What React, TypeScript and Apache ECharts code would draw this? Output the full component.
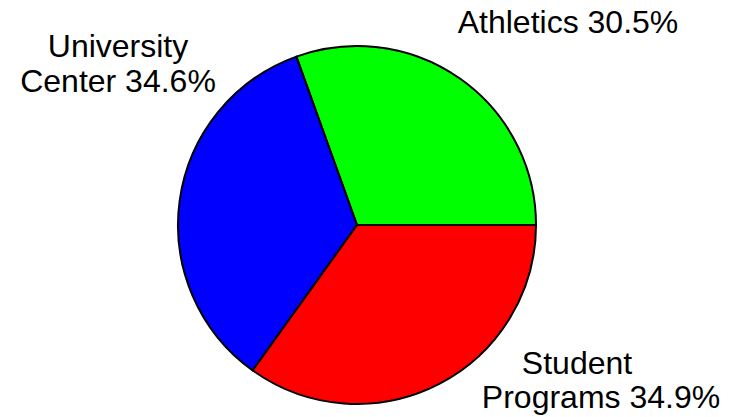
import React, { useEffect, useRef } from "react";
import * as echarts from "echarts";

const categories = ["Athletics", "University Center", "Student Programs"];
const values = [30.5, 34.6, 34.9];
const labelLines = [["Athletics"], ["University", "Center"], ["Student", "Programs"]];
const colors = ["#00ff00", "#0000ff", "#ff0000"];
// label anchor positions (text block centers)
const labelAnchors = [
  [568, 22],
  [118, 63],
  [601, 380],
];

export default function App() {
  const ref = useRef<HTMLDivElement>(null);
  useEffect(() => {
    if (!ref.current) return;
    const chart = echarts.init(ref.current, null, { renderer: "svg" });
    const font = "'Liberation Sans', Arial, sans-serif";
    chart.setOption({
      animation: false,
      backgroundColor: "#ffffff",
      series: [
        {
          type: "pie",
          center: [357, 225],
          radius: 179,
          startAngle: 0,
          clockwise: false,
          avoidLabelOverlap: false,
          itemStyle: { borderColor: "#000000", borderWidth: 2 },
          label: {
            show: true,
            position: "outside",
            fontFamily: font,
            fontSize: 32,
            color: "#000000",
            lineHeight: 35,
            align: "center",
            formatter: (p: any) => {
              const lines = labelLines[p.dataIndex];
              const pct = values[p.dataIndex].toFixed(1) + "%";
              if (lines.length === 1) return `${lines[0]} ${pct}`;
              if (p.dataIndex === 2) return `{a|${lines[0]}}\n{b|${lines[1]} ${pct}}`;
              return `${lines[0]}\n${lines[1]} ${pct}`;
            },
            rich: {
              a: { fontFamily: font, fontSize: 32, lineHeight: 34, color: "#000", padding: [0, 48, 0, 0] },
              b: { fontFamily: font, fontSize: 32, lineHeight: 34, color: "#000" },
            },
          },
          labelLine: { show: false },
          labelLayout: (params: any) => {
            const a = labelAnchors[params.dataIndex];
            return { x: a[0], y: a[1], align: "center", verticalAlign: "middle" };
          },
          data: categories.map((name, i) => ({
            name,
            value: values[i],
            itemStyle: { color: colors[i] },
          })),
        },
      ],
    });
    return () => chart.dispose();
  }, []);
  return (
    <div
      ref={ref}
      style={{ position: "fixed", left: 0, top: 0, width: 735, height: 417 }}
    />
  );
}
